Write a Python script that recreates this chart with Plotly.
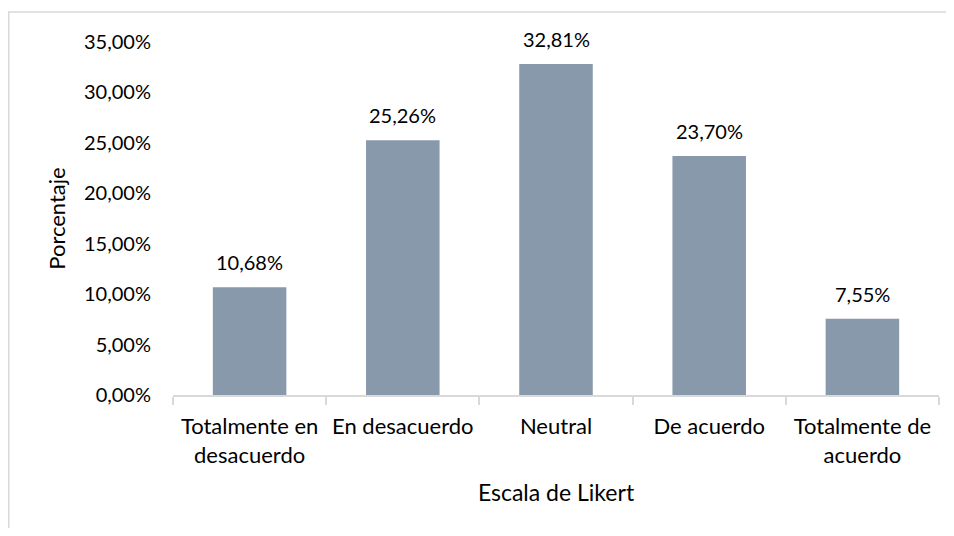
import plotly.graph_objects as go

# Likert scale responses
categorias = ["Totalmente en<br>desacuerdo", "En desacuerdo", "Neutral",
              "De acuerdo", "Totalmente de<br>acuerdo"]
porcentajes = [10.68, 25.26, 32.81, 23.70, 7.55]
y_ticks = [0, 5, 10, 15, 20, 25, 30, 35]
y_ticktext = ["0,00%", "5,00%", "10,00%", "15,00%", "20,00%",
              "25,00%", "30,00%", "35,00%"]

fuente = "Lato"
gris = "#D9D9D9"

fig = go.Figure()
fig.add_trace(
    go.Bar(
        x=categorias,
        y=porcentajes,
        marker_color="#8799AA",
        marker_line_width=0,
        hoverinfo="skip",
    )
)

# value labels above the bars
for cat, val in zip(categorias, porcentajes):
    fig.add_annotation(
        x=cat, y=val,
        text=f"{val:.2f}%".replace(".", ","),
        showarrow=False,
        yanchor="bottom",
        yshift=11,
        font=dict(family=fuente, size=20, color="#000000"),
    )

# plot area (figure px): x 165..931, y 34..387  (page adds 8px body margin)
def fx(px):
    return (px - 165) / 766
def fy(py):
    return (387 - py) / 353

fig.update_layout(
    width=946,
    height=520,
    margin=dict(l=165, r=15, t=34, b=133),
    bargap=0.52,
    plot_bgcolor="white",
    paper_bgcolor="white",
    font=dict(family=fuente, size=20, color="#000000"),
    showlegend=False,
    xaxis=dict(
        showgrid=False,
        showline=True,
        linecolor=gris,
        linewidth=1.5,
        ticks="outside",
        tickson="boundaries",
        ticklen=8,
        tickcolor=gris,
        tickwidth=1.5,
        ticklabelstandoff=11,
        tickfont=dict(size=22),
        title=dict(text="Escala de Likert", font=dict(size=23), standoff=18),
        automargin=False,
    ),
    yaxis=dict(
        range=[0, 35],
        tickvals=y_ticks,
        ticktext=y_ticktext,
        showgrid=False,
        zeroline=False,
        showline=False,
        ticks="",
        ticklabelstandoff=21,
        tickfont=dict(size=20),
        title=dict(text="Porcentaje", font=dict(size=22), standoff=12),
        automargin=False,
    ),
    shapes=[
        dict(type="line", xref="paper", yref="paper",
             x0=fx(0.75), x1=fx(0.75), y0=fy(4), y1=fy(520),
             line=dict(color=gris, width=1.5)),
        dict(type="line", xref="paper", yref="paper",
             x0=fx(0), x1=fx(944), y0=fy(4), y1=fy(4),
             line=dict(color=gris, width=1.5)),
    ],
)

fig.write_html("out.html")
